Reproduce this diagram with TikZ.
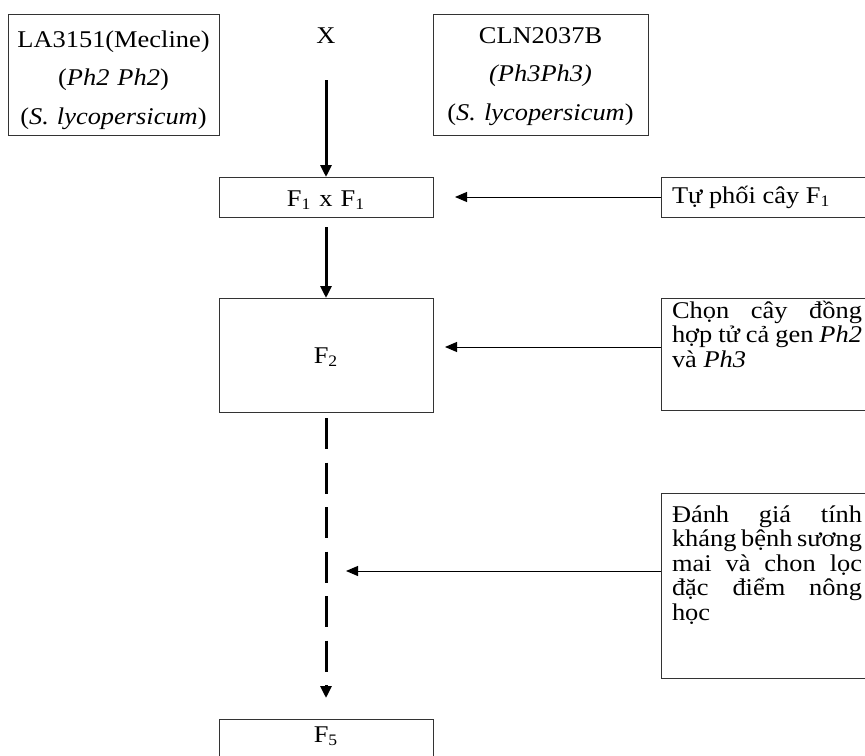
\documentclass[tikz,border=0pt]{standalone}
\usepackage{fontspec}
\setmainfont[FakeStretch=1.1]{Liberation Serif}
\usetikzlibrary{arrows.meta}

\begin{document}
\begin{tikzpicture}[x=0.5pt, y=-0.5pt,
    box/.style={draw=black!80, line width=0.5pt, anchor=north west, outer sep=0pt,
        inner xsep=2pt, inner ysep=0pt, align=center, font=\fontsize{12}{19.25}\selectfont},
    note/.style={box, inner xsep=5.5pt, text width=115pt, align=justify,
        font=\fontsize{12}{12.25}\selectfont},
    flow/.style={line width=1.5pt, -{Triangle[length=6pt, width=5.5pt]}},
    hint/.style={line width=0.5pt, -{Triangle[length=6pt, width=5pt]}},
    breakline/.style={dash pattern=on 15.5pt off 6.75pt}]
    \useasboundingbox (0,0) rectangle (865,755);
    \clip (0,0) rectangle (865,755);

    % 亲本
    \node[box, text width=101.5pt, text height=16.5pt, text depth=44pt] (parentA) at (8,14)
        {LA3151(Mecline)\\(\textit{Ph2 Ph2})\\(\textit{S. lycopersicum})};
    \node[anchor=base, inner sep=0pt, font=\fontsize{12}{14}\selectfont] (cross) at (326,43) {X};
    \node[box, text width=103.5pt, text height=14.5pt, text depth=46pt] (parentB) at (433,14)
        {CLN2037B\\\textit{(Ph3Ph3)}\\(\textit{S. lycopersicum})};

    % 世代
    \node[box, text width=103pt, text height=14.5pt, text depth=5.5pt] (fone) at (219,177)
        {F\textsubscript{1} x F\textsubscript{1}};
    \node[box, text width=103pt, text height=32.5pt, text depth=24.5pt] (ftwo) at (219,298)
        {F\textsubscript{2}};
    \node[box, text width=103pt, text height=11.5pt, text depth=20pt] (ffive) at (219,719)
        {F\textsubscript{5}};

    % 说明框
    \node[note, text height=13pt, text depth=7pt] (selfing) at (661,177)
        {Tự phối cây F\textsubscript{1}};
    \node[note, text height=10pt, text depth=46pt] (select) at (661,298)
        {\makebox[95pt][s]{Chọn cây đồng}\\
         \makebox[95pt][s]{hợp tử cả gen \textit{Ph2}}\\
         và \textit{Ph3}};
    \node[note, text height=14.5pt, text depth=78pt] (evaluate) at (661,493)
        {\makebox[95pt][s]{Đánh giá tính}\\
         \makebox[95pt][s]{kháng bệnh sương}\\
         \makebox[95pt][s]{mai và chon lọc}\\
         \makebox[95pt][s]{đặc điểm nông}\\
         học};

    % 主箭头
    \draw[flow, shorten <=18.5pt] (cross.south) -- (fone.north);
    \draw[flow, shorten <=5pt] (fone.south) -- (ftwo.north);
    \draw[flow, breakline, shorten <=3pt, shorten >=10.5pt] (ftwo.south) -- (ffive.north);

    % 侧箭头
    \draw[hint, shorten >=11pt] (selfing.west) -- (selfing.west -| fone.east);
    \draw[hint, shorten >=6pt] ([yshift=3.5pt]select.west) -- ([yshift=3.5pt]select.west -| ftwo.east);
    \draw[hint, shorten >=10pt] ([yshift=7.25pt]evaluate.west) -- ([yshift=7.25pt]evaluate.west -| ftwo.south);
\end{tikzpicture}
\end{document}
